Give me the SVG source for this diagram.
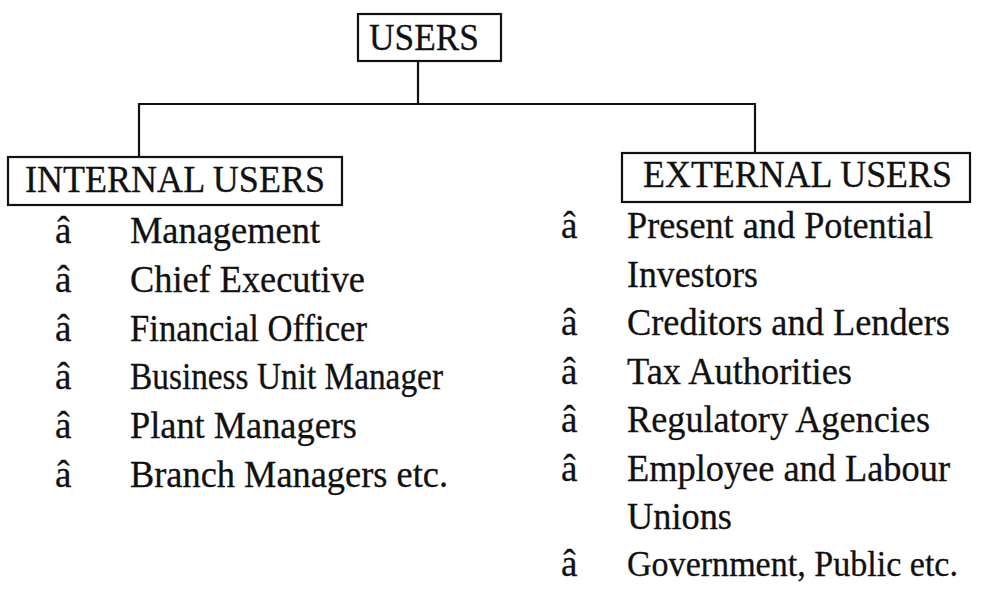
<svg xmlns="http://www.w3.org/2000/svg" width="981" height="590" viewBox="0 0 981 590">
  <style>
    .box { fill: #ffffff; stroke: #111111; stroke-width: 2.2; }
    .wire { fill: none; stroke: #111111; stroke-width: 2.2; }
    text { font-family: "Liberation Serif", "Times New Roman", serif; font-size: 37px; fill: #111111; stroke: #111111; stroke-width: 0.3; }
    .tight { font-size: 35px; }
  </style>
  <rect width="981" height="590" fill="#ffffff"/>

  <!-- tree connectors -->
  <g id="connectors">
    <path class="wire" d="M418 61 V104"/>
    <path class="wire" d="M139 157 V104 H755 V153"/>
  </g>

  <g id="users">
    <rect class="box" x="358" y="14" width="143" height="47"/>
    <text x="369" y="50" textLength="110" lengthAdjust="spacingAndGlyphs">USERS</text>
  </g>

  <g id="internal-users">
    <rect class="box" x="8" y="157" width="334" height="48"/>
    <text x="25" y="192" textLength="300" lengthAdjust="spacingAndGlyphs">INTERNAL USERS</text>
  </g>

  <g id="external-users">
    <rect class="box" x="622" y="153" width="348" height="49"/>
    <text x="643" y="187" textLength="309" lengthAdjust="spacingAndGlyphs">EXTERNAL USERS</text>
  </g>

  <!-- internal users list -->
  <g id="internal-list">
    <text x="55" y="243">â</text>
    <text x="130" y="243" textLength="190" lengthAdjust="spacingAndGlyphs">Management</text>
    <text x="55" y="292">â</text>
    <text x="130" y="292" textLength="235" lengthAdjust="spacingAndGlyphs">Chief Executive</text>
    <text x="55" y="341">â</text>
    <text x="130" y="341" textLength="237" lengthAdjust="spacingAndGlyphs">Financial Officer</text>
    <text x="55" y="389">â</text>
    <text x="130" y="389" textLength="313" lengthAdjust="spacingAndGlyphs">Business Unit Manager</text>
    <text x="55" y="438">â</text>
    <text x="130" y="438" textLength="227" lengthAdjust="spacingAndGlyphs">Plant Managers</text>
    <text x="55" y="487">â</text>
    <text x="130" y="487" textLength="318" lengthAdjust="spacingAndGlyphs">Branch Managers etc.</text>
  </g>

  <!-- external users list -->
  <g id="external-list">
    <text x="561" y="238">â</text>
    <text x="627" y="238" textLength="306" lengthAdjust="spacingAndGlyphs">Present and Potential</text>
    <text x="627" y="287" textLength="131" lengthAdjust="spacingAndGlyphs">Investors</text>
    <text x="561" y="335">â</text>
    <text x="627" y="335" textLength="323" lengthAdjust="spacingAndGlyphs">Creditors and Lenders</text>
    <text x="561" y="384">â</text>
    <text x="627" y="384" textLength="225" lengthAdjust="spacingAndGlyphs">Tax Authorities</text>
    <text x="561" y="432">â</text>
    <text x="627" y="432" textLength="303" lengthAdjust="spacingAndGlyphs">Regulatory Agencies</text>
    <text x="561" y="481">â</text>
    <text x="627" y="481" textLength="323" lengthAdjust="spacingAndGlyphs">Employee and Labour</text>
    <text x="627" y="529" textLength="105" lengthAdjust="spacingAndGlyphs">Unions</text>
    <text x="561" y="576">â</text>
    <text class="tight" x="627" y="576" textLength="331" lengthAdjust="spacingAndGlyphs">Government, Public etc.</text>
  </g>
</svg>
